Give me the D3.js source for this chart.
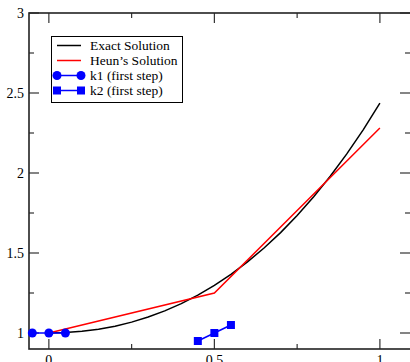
<!DOCTYPE html>
<meta charset="utf-8">
<style>
  body { margin: 0; background: #fff; }
  svg { display: block; }
</style>
<svg width="410" height="362"></svg>
<script src="https://d3js.org/d3.v7.min.js"></script>
<script>
// values
var exactX = [0, 0.05, 0.1, 0.15, 0.2, 0.25, 0.3, 0.35, 0.4, 0.45, 0.5, 0.55, 0.6, 0.65, 0.7, 0.75, 0.8, 0.85, 0.9, 0.95, 1.0];
var exactY = [1, 1.0025, 1.0103, 1.0237, 1.0428, 1.0681, 1.0997, 1.1381, 1.1836, 1.2366, 1.2974, 1.3665, 1.4442, 1.5311, 1.6275, 1.734, 1.8511, 1.9793, 2.1192, 2.2714, 2.4366];
var heunX = [0, 0.5, 1];
var heunY = [1, 1.25, 2.28125];
var k1X = [-0.05, 0, 0.05];
var k1Y = [1, 1, 1];
var k2X = [0.45, 0.5, 0.55];
var k2Y = [0.95, 1, 1.05];
var xTicks = [0, 0.5, 1];
var xMinor = [0.25, 0.75];
var yTicks = [1, 1.5, 2, 2.5, 3];
var yMinor = [1.25, 1.75, 2.25, 2.75];
var legendLabels = ["Exact Solution", "Heun\u2019s Solution", "k1 (first step)", "k2 (first step)"];

var serif = "Liberation Serif";

var svg = d3.select("svg");
var pLeft = 29, pRight = 413, pTop = 13, pBottom = 349;

var x = d3.scaleLinear().domain([-0.06, 1.1]).range([pLeft, pRight]);
var y = d3.scaleLinear().domain([0.9, 3]).range([pBottom, pTop]);

function pts(xs, ys) { return xs.map(function(v, i) { return [v, ys[i]]; }); }
var line = d3.line().x(function(d) { return x(d[0]); }).y(function(d) { return y(d[1]); });

// ticks, inward on all four sides
var tk = svg.append("g").attr("stroke", "#333").attr("stroke-width", 1.2);
xTicks.forEach(function(v) {
  tk.append("line").attr("x1", x(v)).attr("x2", x(v)).attr("y1", pBottom).attr("y2", pBottom - 10);
  tk.append("line").attr("x1", x(v)).attr("x2", x(v)).attr("y1", pTop).attr("y2", pTop + 10);
});
xMinor.forEach(function(v) {
  tk.append("line").attr("x1", x(v)).attr("x2", x(v)).attr("y1", pBottom).attr("y2", pBottom - 5);
  tk.append("line").attr("x1", x(v)).attr("x2", x(v)).attr("y1", pTop).attr("y2", pTop + 5);
});
yTicks.forEach(function(v) {
  tk.append("line").attr("x1", pLeft).attr("x2", pLeft + 10).attr("y1", y(v)).attr("y2", y(v));
  tk.append("line").attr("x1", 410).attr("x2", 400).attr("y1", y(v)).attr("y2", y(v));
});
yMinor.forEach(function(v) {
  tk.append("line").attr("x1", pLeft).attr("x2", pLeft + 5).attr("y1", y(v)).attr("y2", y(v));
  tk.append("line").attr("x1", 410).attr("x2", 405).attr("y1", y(v)).attr("y2", y(v));
});

// frame
svg.append("rect")
    .attr("x", pLeft).attr("y", pTop)
    .attr("width", pRight - pLeft).attr("height", pBottom - pTop)
    .attr("fill", "none").attr("stroke", "#222").attr("stroke-width", 1.6);

// tick labels (the x labels sit partly below the bottom edge, as in the original)
svg.selectAll(".xl").data(xTicks).enter().append("text")
    .attr("font-family", serif).attr("font-size", 14)
    .attr("x", function(d) { return x(d); }).attr("y", 365)
    .attr("text-anchor", "middle")
    .text(function(d) { return d; });
svg.selectAll(".yl").data(yTicks).enter().append("text")
    .attr("font-family", serif).attr("font-size", 14)
    .attr("x", 24).attr("y", function(d) { return y(d); })
    .attr("dy", "0.35em")
    .attr("text-anchor", "end")
    .text(function(d) { return d; });

// curves
svg.append("path").attr("d", line(pts(exactX, exactY)))
    .attr("fill", "none").attr("stroke", "#000").attr("stroke-width", 1.5);
svg.append("path").attr("d", line(pts(heunX, heunY)))
    .attr("fill", "none").attr("stroke", "#ff0000").attr("stroke-width", 1.5);

svg.append("path").attr("d", line(pts(k1X, k1Y)))
    .attr("fill", "none").attr("stroke", "#0000ff").attr("stroke-width", 1.5);
svg.selectAll(".k1").data(pts(k1X, k1Y)).enter().append("circle")
    .attr("cx", function(d) { return x(d[0]); }).attr("cy", function(d) { return y(d[1]); })
    .attr("r", 4.5).attr("fill", "#0000ff");

svg.append("path").attr("d", line(pts(k2X, k2Y)))
    .attr("fill", "none").attr("stroke", "#0000ff").attr("stroke-width", 1.5);
svg.selectAll(".k2").data(pts(k2X, k2Y)).enter().append("rect")
    .attr("x", function(d) { return x(d[0]) - 4; }).attr("y", function(d) { return y(d[1]) - 4; })
    .attr("width", 8).attr("height", 8).attr("fill", "#0000ff");

// legend
var lg = svg.append("g");
lg.append("rect").attr("x", 51.5).attr("y", 36.5).attr("width", 131).attr("height", 66)
    .attr("fill", "#fff").attr("stroke", "#000").attr("stroke-width", 1);
var colors = ["#000", "#ff0000", "#0000ff", "#0000ff"];
legendLabels.forEach(function(t, i) {
  var cy = 45.5 + i * 15;
  lg.append("line").attr("x1", 57).attr("x2", 81).attr("y1", cy).attr("y2", cy)
      .attr("stroke", colors[i]).attr("stroke-width", 1.5);
  if (i == 2) {
    lg.append("circle").attr("cx", 57).attr("cy", cy).attr("r", 4.5).attr("fill", "#0000ff");
    lg.append("circle").attr("cx", 81).attr("cy", cy).attr("r", 4.5).attr("fill", "#0000ff");
  }
  if (i == 3) {
    lg.append("rect").attr("x", 53).attr("y", cy - 4).attr("width", 8).attr("height", 8).attr("fill", "#0000ff");
    lg.append("rect").attr("x", 77).attr("y", cy - 4).attr("width", 8).attr("height", 8).attr("fill", "#0000ff");
  }
  lg.append("text").attr("x", 90).attr("y", cy).attr("dy", "0.35em")
      .attr("font-family", serif).attr("font-size", 13.5)
      .text(t);
});
</script>
